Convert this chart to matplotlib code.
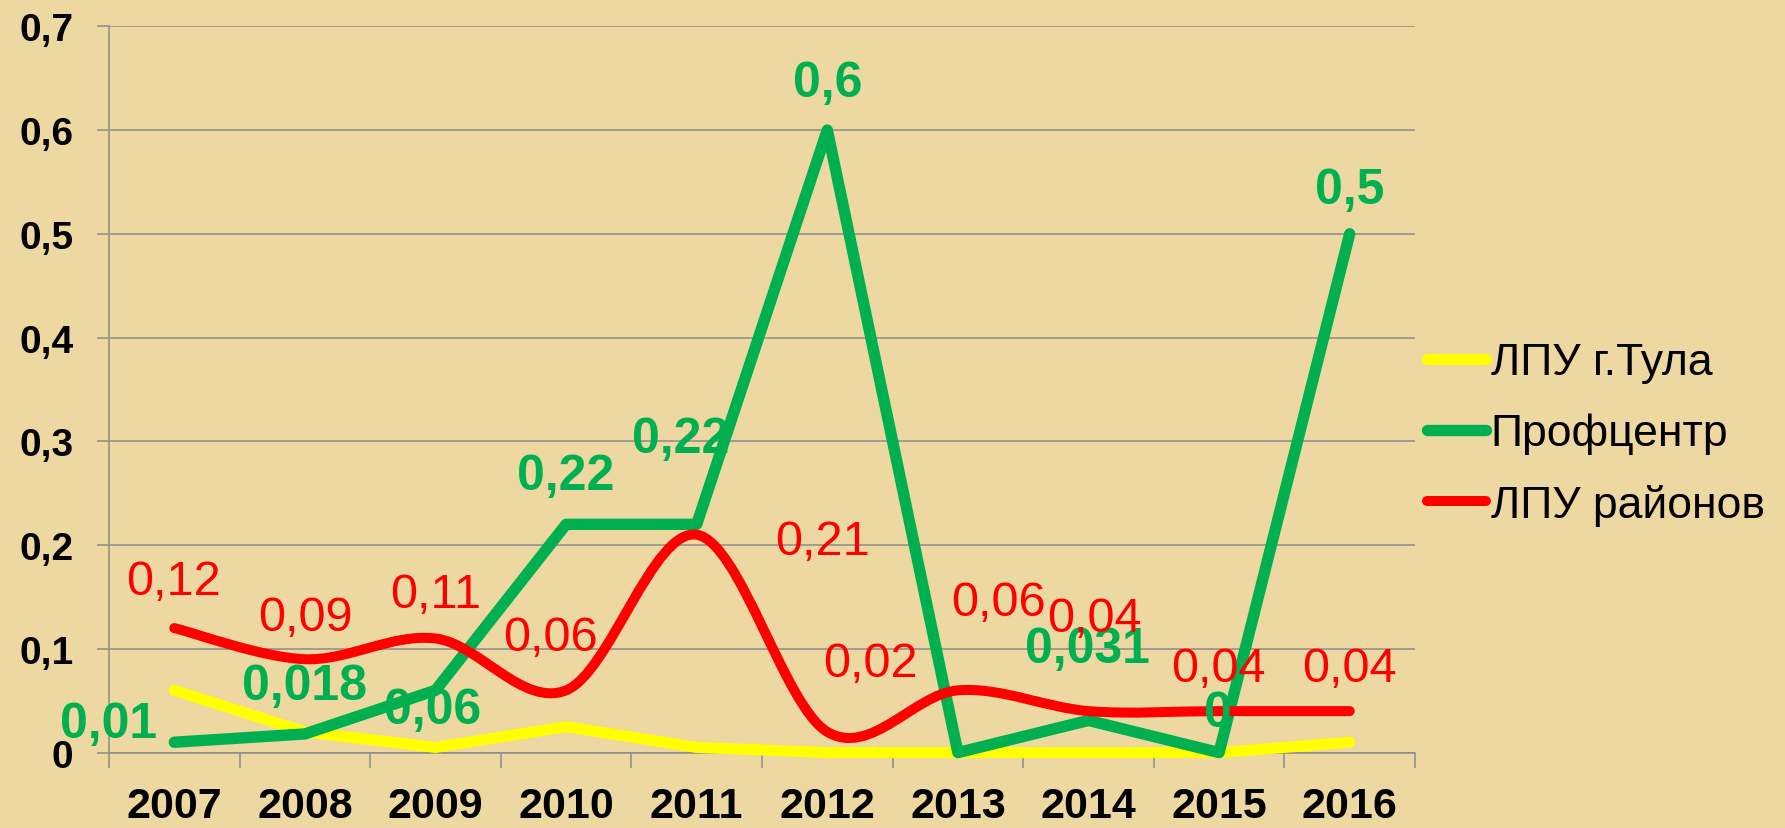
import numpy as np
import matplotlib
matplotlib.use('Agg')
import matplotlib.pyplot as plt
from matplotlib.path import Path
from matplotlib.patches import PathPatch
from matplotlib.ticker import FuncFormatter

plt.rcParams['font.family'] = ['Liberation Sans', 'DejaVu Sans']

# data
years = ['2007', '2008', '2009', '2010', '2011', '2012', '2013', '2014', '2015', '2016']
tula = [0.06, 0.02, 0.005, 0.025, 0.005, 0.0, 0.0, 0.0, 0.0, 0.01]
prof = [0.01, 0.018, 0.06, 0.22, 0.22, 0.6, 0.0, 0.031, 0.0, 0.5]
rayon = [0.12, 0.09, 0.11, 0.06, 0.21, 0.02, 0.06, 0.04, 0.04, 0.04]
prof_labels = ['0,01', '0,018', '0,06', '0,22', '0,22', '0,6', '', '0,031', '0', '0,5']
rayon_labels = ['0,12', '0,09', '0,11', '0,06', '0,21', '0,02', '0,06', '0,04', '0,04', '0,04']
series_names = ['ЛПУ г.Тула', 'Профцентр', 'ЛПУ районов']

# label offsets in pixels (moved by hand in the original)
prof_off = [(-66, 18), (0, 48), (-3, -20), (0, 48), (-16, 85), (0, 47), (0, 0), (-1, 71), (-1, 40), (0, 44)]
rayon_off = [(-1, 47), (0, 42), (0, 44), (-16, 53), (126, -7), (43, 68), (41, 88), (6, 93), (-1, 43), (0, 43)]

BG = '#EDD8A2'
GRID = '#8C8C8C'
YELLOW = '#FFFF00'
GREEN = '#00B050'
RED = '#FF0000'


def smooth_path(xs, ys):
    # Excel-like smoothed line: cubic bezier through every point
    pts = np.column_stack([xs, ys]).astype(float)
    n = len(pts)
    verts = [pts[0]]
    codes = [Path.MOVETO]
    for i in range(n - 1):
        p0 = pts[max(i - 1, 0)]
        p1 = pts[i]
        p2 = pts[i + 1]
        p3 = pts[min(i + 2, n - 1)]
        verts += [p1 + (p2 - p0) / 6, p2 - (p3 - p1) / 6, p2]
        codes += [Path.CURVE4] * 3
    return Path(verts, codes)


fig = plt.figure(figsize=(17.85, 8.29), dpi=100, facecolor=BG)
ax = fig.add_axes([109 / 1785, 75.4 / 829, (1415 - 109) / 1785, (801.7 - 75.4) / 829])
ax.set_facecolor(BG)

x = np.arange(len(years))

l1, = ax.plot(x, tula, color=YELLOW, lw=8, solid_capstyle='round',
              solid_joinstyle='round', clip_on=False, zorder=3)
l2, = ax.plot(x, prof, color=GREEN, lw=8.2, solid_capstyle='round',
              solid_joinstyle='round', clip_on=False, zorder=4)
patch = PathPatch(smooth_path(x, rayon), fill=False, edgecolor=RED, lw=7.2,
                  capstyle='round', joinstyle='round', clip_on=False, zorder=5)
ax.add_patch(patch)
l3, = ax.plot([], [], color=RED, lw=7.2, solid_capstyle='round')

for xi, yi, txt, off in zip(x, prof, prof_labels, prof_off):
    if txt:
        ax.annotate(txt, (xi, yi), xytext=off, textcoords='offset pixels',
                    ha='center', va='center', fontsize=36, fontweight='bold',
                    color=GREEN, zorder=6, annotation_clip=False)
for xi, yi, txt, off in zip(x, rayon, rayon_labels, rayon_off):
    ax.annotate(txt, (xi, yi), xytext=off, textcoords='offset pixels',
                ha='center', va='center', fontsize=35, color=RED,
                zorder=6, annotation_clip=False)

ax.set_xlim(-0.5, len(years) - 0.5)
ax.set_ylim(0, 0.7)
ax.set_yticks(np.arange(0, 0.71, 0.1))
ax.yaxis.set_major_formatter(FuncFormatter(lambda v, p: ('%g' % round(v, 1)).replace('.', ',')))
ax.set_xticks(x)
ax.set_xticklabels(years)
ax.set_xticks(np.arange(-0.5, len(years), 1), minor=True)

ax.tick_params(axis='x', which='major', length=0, pad=24, labelsize=31)
ax.tick_params(axis='x', which='minor', length=10.8, width=1.1, color=GRID)
ax.tick_params(axis='y', length=8.6, width=1.1, color=GRID, pad=17, labelsize=28)
for lab in ax.get_xticklabels() + ax.get_yticklabels():
    lab.set_fontweight('bold')

ax.yaxis.grid(True, color=GRID, lw=1.1)
ax.set_axisbelow(True)
for s in ['top', 'right']:
    ax.spines[s].set_visible(False)
for s in ['left', 'bottom']:
    ax.spines[s].set_color(GRID)
    ax.spines[s].set_linewidth(1.1)

fig.legend([l1, l2, l3], series_names, loc='center left',
           bbox_to_anchor=(1427 / 1785, (829 - 435) / 829), frameon=False,
           fontsize=32, handlelength=1.33, handletextpad=0.1,
           labelspacing=0.66, borderpad=0, borderaxespad=0)

fig.savefig('out.png', dpi=100, facecolor=BG)
